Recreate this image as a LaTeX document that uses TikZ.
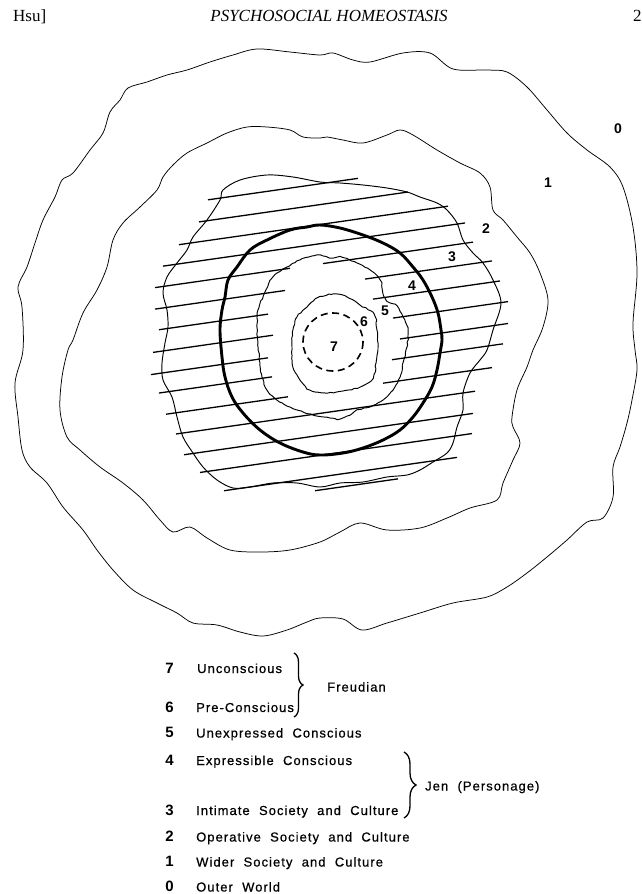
\documentclass[tikz,border=0pt]{standalone}
\usepackage{fontspec}
\setmainfont{Liberation Serif}
\newfontfamily\labfont{Liberation Sans}
\newfontfamily\legfont[LetterSpace=8,WordSpace=2,FakeBold=0.6]{Liberation Sans}
\usetikzlibrary{decorations.pathreplacing,decorations.pathmorphing}
\newcommand\hatchln[3]{\draw[hatch] ({#2},{#1-0.143*(#2-320)}) -- ({#3},{#1-0.143*(#3-320)});}
\begin{document}
\begin{tikzpicture}[x=1pt,y=-1pt,
  thinring/.style={line width=0.75pt,line join=round},
  midring/.style={line width=0.95pt,line join=round},
  roughring/.style={line width=0.95pt,line join=round,decorate,decoration={random steps,segment length=3pt,amplitude=0.55pt}},
  thickring/.style={line width=2.9pt,line join=round},
  hatch/.style={line width=1.3pt},
  dashring/.style={line width=1.6pt,dash pattern=on 7pt off 4.5pt},
  dlab/.style={font=\labfont\bfseries\fontsize{14}{14}\selectfont,inner sep=0pt},
  legnum/.style={font=\labfont\bfseries\fontsize{15}{15}\selectfont,inner sep=0pt,anchor=base},
  legtxt/.style={font=\legfont\fontsize{13}{13}\selectfont,inner sep=0pt,anchor=base west},
  bracebr/.style={decorate,line width=1.3pt}
]
\pgfmathsetseed{7}
\useasboundingbox (0,0) rectangle (641,894);
\fill[white] (0,0) rectangle (641,894);

% header
\node[anchor=base west,inner sep=0pt,font=\fontsize{17}{17}\selectfont] (hsu) at (13,21) {Hsu]};
\node[anchor=base,inner sep=0pt,font=\itshape\fontsize{17}{17}\selectfont] (title) at (329,21) {PSYCHOSOCIAL HOMEOSTASIS};
\node[anchor=base west,inner sep=0pt,font=\fontsize{17}{17}\selectfont] (pg) at (633,21) {2};

% ring 0/1
\draw[thinring] plot[smooth cycle,tension=0.55] coordinates {
(320,55) (333,53) (353,60) (370,62) (403,53) (430,53) (453,69) (487,70) (507,72) (527,87) (547,110) (567,133) (587,150) (610,167) (623,187) (633,227) (637,273) (633,323) (635,350) (637,370) (632,400) (627,423) (620,447) (613,467) (613,497) (603,518) (587,522) (567,540) (547,557) (527,573) (507,587) (487,597) (453,603) (420,613) (387,623) (362,630) (343,619) (320,618) (307,622) (287,630) (263,636) (240,632) (217,625) (193,623) (177,613) (157,603) (133,590) (113,570) (97,550) (83,530) (63,507) (47,483) (30,467) (22,450) (18,417) (15,383) (23,350) (22,307) (18,287) (27,267) (35,243) (43,220) (55,197) (62,180) (73,173) (90,150) (103,133) (110,112) (120,100) (128,88) (147,82) (167,75) (187,70) (210,62) (233,55) (257,49) (290,52)};

% ring 1/2
\draw[thinring] plot[smooth cycle,tension=0.55] coordinates {
(320,138) (327,137) (343,140) (363,143) (387,135) (400,130) (413,135) (437,150) (460,163) (480,173) (490,187) (493,210) (503,220) (517,237) (530,253) (540,273) (548,300) (543,327) (533,350) (527,367) (517,390) (512,417) (513,427) (520,443) (513,460) (503,483) (497,500) (470,508) (447,518) (420,528) (387,530) (360,523) (340,532) (320,542) (290,550) (260,552) (230,550) (207,538) (190,527) (173,532) (160,520) (143,500) (123,483) (100,467) (80,450) (67,437) (60,410) (62,377) (68,350) (73,340) (83,313) (97,290) (107,267) (113,240) (123,223) (140,207) (157,190) (163,177) (173,165) (187,153) (207,143) (227,133) (247,127) (267,127) (290,130) (303,137)};

% ring 2/3 (hatched area edge)
\draw[midring] plot[smooth cycle,tension=0.55] coordinates {
(320,182) (340,183) (363,185) (387,188) (407,192) (420,197) (437,203) (447,210) (457,223) (463,240) (473,253) (483,263) (493,280) (501,303) (493,330) (487,350) (480,360) (470,373) (463,393) (463,410) (457,427) (453,443) (447,453) (433,462) (420,470) (407,475) (387,477) (363,482) (340,483) (320,487) (297,483) (273,483) (250,487) (233,488) (217,480) (203,467) (193,453) (183,437) (177,417) (172,397) (163,380) (162,363) (165,343) (168,327) (167,310) (163,293) (167,277) (177,263) (187,250) (193,237) (207,220) (220,200) (223,190) (240,180) (267,175) (293,177)};

% hatching
\hatchln{183.8}{208}{358}
\hatchln{204.6}{199}{408}
\hatchln{224.5}{179}{448}
\hatchln{243.7}{163}{465}
\hatchln{264}{155}{290}   \hatchln{264}{323}{473}
\hatchln{285.5}{155}{285} \hatchln{285.5}{365}{492}
\hatchln{306.7}{159}{268} \hatchln{306.7}{373}{500}
\hatchln{328.5}{153}{273} \hatchln{328.5}{393}{508}
\hatchln{350.4}{151}{268} \hatchln{350.4}{400}{508}
\hatchln{370}{159}{272}   \hatchln{370}{392}{503}
\hatchln{392.2}{166}{288} \hatchln{392.2}{383}{492}
\hatchln{413.4}{176}{475}
\hatchln{435.3}{184}{473}
\hatchln{455.3}{200}{472}
\hatchln{477}{224}{457}
\hatchln{490}{315}{398}

% ring 3/4 (thick)
\draw[thickring] plot[smooth cycle,tension=0.6] coordinates {
(320,225) (340,228) (363,235) (383,243) (400,253) (413,267) (423,280) (432,297) (438,313) (441,330) (442,340) (440,353) (437,370) (432,387) (423,403) (413,417) (400,430) (383,440) (363,448) (343,453) (320,455) (303,452) (280,443) (260,430) (243,413) (232,397) (225,377) (222,357) (220,330) (222,310) (225,297) (228,280) (237,267) (250,250) (267,240) (290,230) (307,227)};

% ring 4/5
\draw[roughring] plot[smooth cycle,tension=0.5] coordinates {
(317,255) (330,258) (340,257) (357,263) (370,270) (380,280) (383,293) (387,301) (397,306) (403,317) (408,330) (407,347) (403,363) (400,377) (393,390) (383,400) (370,407) (357,410) (350,415) (340,419) (330,418) (313,415) (290,407) (277,400) (267,390) (262,377) (260,363) (258,343) (257,327) (258,310) (265,292) (273,277) (287,267) (300,260)};

% ring 5/6
\draw[roughring] plot[smooth cycle,tension=0.5] coordinates {
(333,294) (347,297) (360,305) (374,314) (377,330) (378,347) (376,363) (373,378) (360,387) (343,391) (327,393) (310,390) (300,380) (293,367) (292,347) (293,330) (297,317) (307,307) (317,298)};

% ring 7 (dashed)
\draw[dashring] (333,342) ellipse [x radius=30, y radius=29];

% ring labels
\node[dlab] (r0) at (618,129) {0};
\node[dlab] (r1) at (548,183) {1};
\node[dlab] (r2) at (486,229) {2};
\node[dlab] (r3) at (452,257) {3};
\node[dlab] (r4) at (412,286) {4};
\node[dlab] (r5) at (385,311) {5};
\node[dlab] (r6) at (364,322) {6};
\node[dlab] (r7) at (334,347) {7};

% legend
\node[legnum] (n7) at (169.5,673) {7}; \node[legtxt] (t7) at (197,673) {Unconscious};
\node[legnum] (n6) at (169.5,712) {6}; \node[legtxt] (t6) at (196,712) {Pre-Conscious};
\node[legnum] (n5) at (169.5,737.5) {5}; \node[legtxt] (t5) at (196,737.5) {Unexpressed Conscious};
\node[legnum] (n4) at (169.5,765) {4};   \node[legtxt] (t4) at (196,765) {Expressible Conscious};
\node[legnum] (n3) at (169.5,815) {3};   \node[legtxt] (t3) at (196,815) {Intimate Society and Culture};
\node[legnum] (n2) at (169.5,841.5) {2}; \node[legtxt] (t2) at (196,841.5) {Operative Society and Culture};
\node[legnum] (n1) at (169.5,866.5) {1}; \node[legtxt] (t1) at (196,866.5) {Wider Society and Culture};
\node[legnum] (n0) at (169.5,891.5) {0}; \node[legtxt] (t0) at (196,891.5) {Outer World};

\coordinate (fa) at (294,653);
\coordinate (fb) at (294,717);
\draw[bracebr,decoration={brace,amplitude=9pt}] (fa) -- (fb);
\node[legtxt] (freud) at (327,691.5) {Freudian};

\coordinate (ja) at (404,752);
\coordinate (jb) at (404,818);
\draw[bracebr,decoration={brace,amplitude=12pt}] (ja) -- (jb);
\node[legtxt] (jen) at (425,790.5) {Jen (Personage)};
\end{tikzpicture}
\end{document}
